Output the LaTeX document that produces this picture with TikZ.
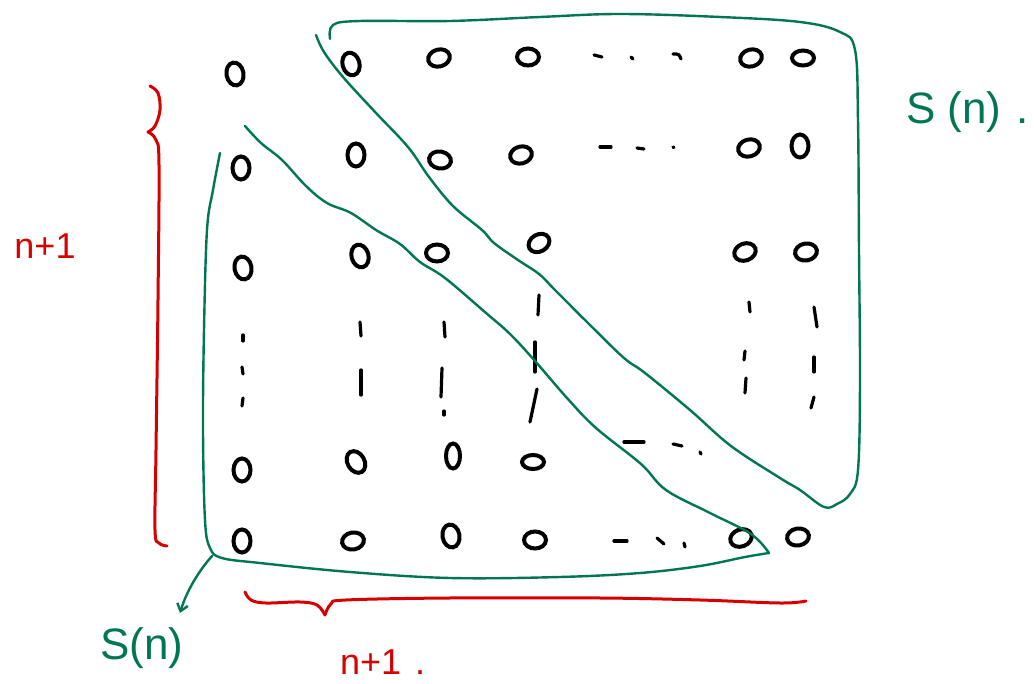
\documentclass[tikz,border=0pt]{standalone}
\usepackage{fontspec}
\setmainfont{Liberation Sans}
\usetikzlibrary{shapes.geometric,arrows.meta}
\definecolor{grn}{RGB}{0,118,84}
\definecolor{rd}{RGB}{214,0,0}
\begin{document}
\begin{tikzpicture}[x=1pt,y=-1pt,
 zero/.style={ellipse,draw=black,line width=4pt,minimum width=22pt,minimum height=17pt,inner sep=0pt},
 tall/.style={zero,minimum width=17pt,minimum height=23pt},
 tick/.style={black,line width=3.2pt,line cap=round},
 gline/.style={grn,line width=2.4pt,line cap=round,line join=round},
 rline/.style={rd,line width=3pt,line cap=round,line join=round},
 glab/.style={text=grn,font=\fontsize{44}{44}\selectfont,inner sep=0pt},
 rlab/.style={text=rd,font=\fontsize{36}{36}\selectfont,inner sep=0pt}]
\useasboundingbox[fill=white] (0,0) rectangle (1034,684);

% ---- matrix entries ----
\node[tall,rotate=10] (c00) at (235,74) {};
\node[tall,rotate=15] (c01) at (351,64) {};
\node[zero,rotate=15] (c02) at (439,58) {};
\node[zero] (c03) at (528,57) {};
\node[zero,rotate=15] (c04) at (751,58) {};
\node[zero,minimum height=15pt] (c05) at (803,58) {};

\node[tall] (c10) at (241,168) {};
\node[tall] (c11) at (356,155) {};
\node[zero,rotate=-10] (c12) at (440,160) {};
\node[zero,rotate=15] (c13) at (521,155) {};
\node[zero,rotate=15] (c14) at (749,148) {};
\node[tall] (c15) at (800,146) {};

\node[tall,rotate=10] (c20) at (243,268) {};
\node[tall,rotate=15] (c21) at (360,256) {};
\node[zero] (c22) at (437,253) {};
\node[zero,rotate=30] (c23) at (539,243) {};
\node[zero,rotate=20] (c24) at (745,252) {};
\node[zero,rotate=10] (c25) at (806,252) {};

\node[tall] (c40) at (242,470) {};
\node[tall,rotate=30] (c41) at (356,462) {};
\node[tall,minimum width=14pt,minimum height=25pt] (c42) at (453,456) {};
\node[zero,minimum height=14pt] (c43) at (533,462) {};

\node[tall] (c50) at (242,541) {};
\node[zero,rotate=10] (c51) at (353,541) {};
\node[tall,rotate=10] (c52) at (451,536) {};
\node[zero] (c53) at (535,540) {};
\node[zero,rotate=20] (c54) at (741,538) {};
\node[zero,rotate=10] (c55) at (798,537) {};

% ---- horizontal dots ----
\draw[tick] (594,55) -- (602,57);
\draw[tick] (631,57) -- (633,59);
\draw[tick] (673,54) .. controls (679,54) .. (681,59);
\draw[tick] (600,147) -- (611,147);
\draw[tick] (637,148) -- (644,149);
\draw[tick] (673,147) -- (674,147.5);
\draw[tick] (624,442) -- (644,442);
\draw[tick] (673,444) -- (682,446);
\draw[tick] (700,452) -- (701,454);
\draw[tick] (614,541) -- (627,541);
\draw[tick] (657,538) -- (664,544);
\draw[tick] (684,543) -- (685,547);

% ---- vertical dots ----
\draw[tick] (243,335) -- (243,341);
\draw[tick] (242,367) -- (243,374);
\draw[tick] (243,398) -- (242,406);
\draw[tick] (360,322) -- (361,336);
\draw[tick] (361,370) -- (361,395);
\draw[tick] (444,322) -- (445,337);
\draw[tick] (442,368) -- (441,397);
\draw[tick] (444,411) -- (444,415);
\draw[tick] (539,295) -- (538,315);
\draw[tick] (535,342) -- (535,372);
\draw[tick] (537,389) -- (530,422);
\draw[tick] (749,302) -- (750,312);
\draw[tick] (745,351) -- (744,360);
\draw[tick] (746,378) -- (745,393);
\draw[tick] (814,307) -- (817,327);
\draw[tick] (814,357) -- (814,372);
\draw[tick] (814,397) -- (811,408);

% ---- upper region S(n) ----
\draw[gline] plot[smooth,tension=0.6] coordinates {
 (330,39) (333,25) (360,21) (450,21) (540,17) (620,14) (720,17) (800,22)
 (840,32) (855,50) (858,120) (859,250) (860,380) (858,470) (850,494)
 (837,504) (824,507) (800,490) (780,478) (731,446) (690,410) (645,373) (624,358)
 (590,325) (555,290) (539,274) (518,260) (494,243) (482,230) (453,206)
 (429,177) (408,147) (376,113) (343,77) (324,52) (316,35)};

% ---- lower region S(n) ----
\draw[gline] plot[smooth,tension=0.6] coordinates {
 (245,126) (261,143) (282,160) (306,186) (327,203) (351,213) (376,230)
 (400,244) (420,262) (445,278) (486,313) (510,334) (535,361) (567,398)
 (596,428) (641,464) (666,490) (710,513) (751,534) (769,553)};
\draw[gline] plot[smooth,tension=0.6] coordinates {
 (769,553) (745,557) (700,566) (640,573) (560,577) (450,578) (350,572)
 (260,563) (222,558) (210,548) (205,520) (203,430) (204,330) (207,230)
 (213,190) (220,153)};

% ---- arrow to S(n) label ----
\coordinate (astart) at (212,556);
\coordinate (aend) at (180,613);
\draw[gline,-{Straight Barb[length=7pt,width=11pt,line width=2.4pt]}]
 (astart) .. controls (197,573) and (186,593) .. (aend);

% ---- red braces ----
\draw[rline] plot[smooth,tension=0.6] coordinates {
 (150,86) (158,93) (160,110) (155,126) (148,132)};
\draw[rline] plot[smooth,tension=0.6] coordinates {
 (148,132) (156,140) (159,165) (158,300) (156,450) (155,530) (159,543) (167,546)};
\draw[rline] plot[smooth,tension=0.6] coordinates {
 (245,592) (251,600) (266,603) (300,602) (317,605) (325,615)};
\draw[rline] plot[smooth,tension=0.6] coordinates {
 (325,615) (331,604) (346,600) (450,598) (600,598) (700,600) (780,603) (806,601)};

% ---- labels ----
\node[glab,anchor=west] (sntop) at (906,112) {S (n)\,\,.};
\node[glab] (snbot) at (142,648) {S(n)};
\node[rlab] (nleft) at (45,246) {n+1};
\node[rlab,anchor=west] (nbot) at (340,662) {n+1\hspace{14pt}.};
\end{tikzpicture}
\end{document}
